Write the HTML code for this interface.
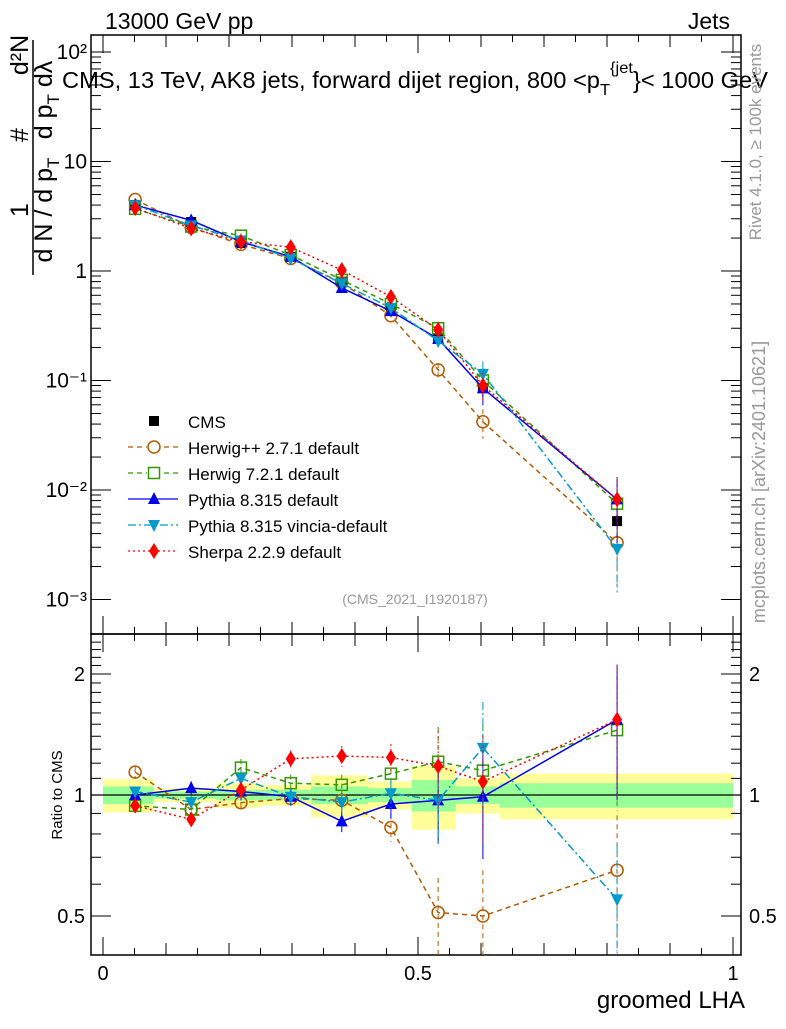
<!DOCTYPE html>
<html><head><meta charset="utf-8"><style>
body{margin:0;background:#fff;width:786px;height:1024px;overflow:hidden}
svg text{font-family:"Liberation Sans",sans-serif}
</style></head><body>
<svg id="chart" width="786" height="1024" viewBox="0 0 786 1024" xmlns="http://www.w3.org/2000/svg">
<g id="bands"></g>
<g id="axes"></g>
<g id="series"></g>
<text x="105" y="29" font-size="23">13000 GeV pp</text>
<text x="730" y="29" font-size="23" text-anchor="end">Jets</text>
<text x="62" y="88" font-size="23" textLength="706" lengthAdjust="spacingAndGlyphs">CMS, 13 TeV, AK8 jets, forward dijet region, 800 &lt;p<tspan dy="7" font-size="16">T</tspan><tspan dy="-22" font-size="16">{jet</tspan><tspan dy="15">}&lt; 1000 GeV</tspan></text>
<text x="415" y="604" font-size="14" fill="#999" text-anchor="middle">(CMS_2021_I1920187)</text>
<text x="745" y="1008" font-size="24" text-anchor="end">groomed LHA</text>
<text transform="translate(62,795) rotate(-90)" font-size="15" text-anchor="middle">Ratio to CMS</text>
<g font-size="25">
<text transform="translate(52,210) rotate(-90)" text-anchor="middle">d N / d p<tspan font-size="17" dy="7">T</tspan></text>
<text transform="translate(28,210) rotate(-90)" text-anchor="middle">1</text>
<line x1="33" y1="40" x2="33" y2="275" stroke="#000" stroke-width="1.5"/>
<text transform="translate(28,135) rotate(-90)" text-anchor="middle">#</text>
<text transform="translate(52,100) rotate(-90)" text-anchor="middle">d p<tspan font-size="17" dy="7">T</tspan><tspan dy="-7"> d</tspan>λ</text>
<text transform="translate(28,55) rotate(-90)" text-anchor="middle">d²N</text>
</g>
<text transform="translate(761,142) rotate(-90)" font-size="17" fill="#999" text-anchor="middle">Rivet 4.1.0, ≥ 100k events</text>
<text transform="translate(765,482) rotate(-90)" font-size="18" fill="#999" text-anchor="middle">mcplots.cern.ch [arXiv:2401.10621]</text>
<g id="legend"></g>
</svg>
<script>
const xCenters=[0.051,0.14,0.219,0.298,0.379,0.457,0.532,0.603,0.816];
const binEdges=[0,0.08,0.18,0.25,0.33,0.42,0.49,0.56,0.63,1.0];
const cmsVals=[4.0,2.8,1.8,1.35,0.8,0.45,0.24,0.085,0.0052];
const herwigppVals=[4.5,2.5,1.75,1.3,0.78,0.39,0.125,0.042,0.0033];
const herwig7Vals=[3.7,2.55,2.1,1.4,0.83,0.5,0.3,0.1,0.0075];
const pythiaVals=[4.0,2.9,1.85,1.35,0.7,0.43,0.24,0.085,0.0082];
const vinciaVals=[4.0,2.6,1.9,1.3,0.77,0.46,0.23,0.115,0.0029];
const sherpaVals=[3.75,2.45,1.85,1.65,1.02,0.58,0.29,0.09,0.0082];
const herwigppRatio=[1.14,0.92,0.957,0.98,0.97,0.83,0.51,0.5,0.65];
const herwig7Ratio=[0.94,0.92,1.17,1.07,1.06,1.13,1.21,1.15,1.45];
const pythiaRatio=[1.0,1.04,1.02,0.99,0.86,0.95,0.97,0.99,1.54];
const vinciaRatio=[1.02,0.96,1.1,0.99,0.96,1.01,0.97,1.31,0.55];
const sherpaRatio=[0.94,0.87,1.03,1.23,1.25,1.24,1.18,1.08,1.54];
const relErr=[0.03,0.04,0.05,0.04,0.05,0.07,0.15,0.3,0.6];
const ratioErr=[0.03,0.04,0.05,0.05,0.06,0.08,0.22,0.3,0.37];
const bandYellow=[0.095,0.04,0.07,0.06,0.12,0.08,0.18,0.1,0.13];
const bandGreen=[0.05,0.02,0.03,0.03,0.05,0.04,0.09,0.05,0.07];
const xTicks=[0,0.5,1];
const yTicks=[100,10,1,0.1,0.01,0.001];
const yTickLabels=["10²","10","1","10⁻¹","10⁻²","10⁻³"];
const rTicks=[0.5,1,2];

const NS="http://www.w3.org/2000/svg";
const L=91,R=741,T=35,D=634,B=955;
const X=v=>103+v*630;
const Y=v=>271-Math.log10(v)*109.5;
const RY=v=>795-Math.log10(v)*402;
function mk(tag,attrs,parent){const e=document.createElementNS(NS,tag);for(const k in attrs)e.setAttribute(k,attrs[k]);parent.appendChild(e);return e;}
const ax=document.getElementById('axes'),bands=document.getElementById('bands'),ser=document.getElementById('series'),leg=document.getElementById('legend');

binEdges.slice(0,-1).forEach((e0,i)=>{
 const x0=X(e0),x1=X(binEdges[i+1]);
 const y=mk('rect',{x:x0,y:RY(1+bandYellow[i]),width:x1-x0,height:RY(1-bandYellow[i])-RY(1+bandYellow[i]),fill:'#ffff99'},bands);
 
 const g=mk('rect',{x:x0,y:RY(1+bandGreen[i]),width:x1-x0,height:RY(1-bandGreen[i])-RY(1+bandGreen[i]),fill:'#99ff99'},bands);
 
});
mk('line',{x1:L,x2:R,y1:RY(1),y2:RY(1),stroke:'#000','stroke-width':1.2},bands);

mk('rect',{x:L,y:T,width:R-L,height:D-T,fill:'none',stroke:'#000','stroke-width':1.5},ax);
mk('rect',{x:L,y:D,width:R-L,height:B-D,fill:'none',stroke:'#000','stroke-width':1.5},ax);
for(let k=0;k<=20;k++){const v=k*0.05,x=X(v),len=(k%10==0)?18:(k%2==0?12:7);
 [[T,1],[D,-1],[D,1],[B,-1]].forEach(([y0,s])=>mk('line',{x1:x,x2:x,y1:y0,y2:y0+s*len,stroke:'#000'},ax));}
xTicks.forEach(v=>{const t=mk('text',{x:X(v),y:980,'font-size':20,'text-anchor':'middle'},ax);t.textContent=String(v);
 });
for(let d=-3;d<=2;d++){for(let m=1;m<10;m++){const v=m*Math.pow(10,d),y=Y(v);if(y<T||y>D)continue;const len=m==1?20:10;
 mk('line',{x1:L,x2:L+len,y1:y,y2:y,stroke:'#000'},ax);mk('line',{x1:R,x2:R-len,y1:y,y2:y,stroke:'#000'},ax);}}
yTicks.forEach((v,i)=>{const t=mk('text',{x:L-4,y:Y(v)+7,'font-size':21,'text-anchor':'end'},ax);t.textContent=yTickLabels[i];
 });
for(let k=4;k<=24;k++){const v=k/10,y=RY(v);if(y<D||y>B)continue;const len=(v==0.5||v==1||v==2)?20:10;
 mk('line',{x1:L,x2:L+len,y1:y,y2:y,stroke:'#000'},ax);mk('line',{x1:R,x2:R-len,y1:y,y2:y,stroke:'#000'},ax);}
rTicks.forEach(v=>{[[L-6,'end'],[R+8,'start']].forEach(([x,a])=>{const t=mk('text',{x:x,y:RY(v)+7,'font-size':20,'text-anchor':a},ax);t.textContent=String(v);
 });});

function marker(g,type,color,x,y){
 if(type=='sq')mk('rect',{x:x-5,y:y-5,width:10,height:10,fill:'#000'},g);
 else if(type=='circ')mk('circle',{cx:x,cy:y,r:6,fill:'none',stroke:color,'stroke-width':1.5},g);
 else if(type=='osq')mk('rect',{x:x-5.5,y:y-5.5,width:11,height:11,fill:'none',stroke:color,'stroke-width':1.5},g);
 else if(type=='up')mk('polygon',{points:`${x},${y-7} ${x-6},${y+5} ${x+6},${y+5}`,fill:color},g);
 else if(type=='down')mk('polygon',{points:`${x},${y+7} ${x-6},${y-5} ${x+6},${y-5}`,fill:color},g);
 else if(type=='dia')mk('polygon',{points:`${x},${y-8} ${x-5},${y} ${x},${y+8} ${x+5},${y}`,fill:color},g);
}
const series=[
 {name:'herwigpp',label:'Herwig++ 2.7.1 default',vals:herwigppVals,ratio:herwigppRatio,color:'#b35900',dash:'5,4',m:'circ'},
 {name:'herwig7',label:'Herwig 7.2.1 default',vals:herwig7Vals,ratio:herwig7Ratio,color:'#339900',dash:'5,4',m:'osq'},
 {name:'pythia',label:'Pythia 8.315 default',vals:pythiaVals,ratio:pythiaRatio,color:'#0000ee',dash:'',m:'up'},
 {name:'vincia',label:'Pythia 8.315 vincia-default',vals:vinciaVals,ratio:vinciaRatio,color:'#0099cc',dash:'8,3,2,3',m:'down'},
 {name:'sherpa',label:'Sherpa 2.2.9 default',vals:sherpaVals,ratio:sherpaRatio,color:'#ff0000',dash:'2,3',m:'dia'}
];
const cg=mk('g',{},ser);
xCenters.forEach((x,i)=>{const v=cmsVals[i],e=relErr[i]*0.5;mk('line',{x1:X(x),x2:X(x),y1:Y(v*(1+e)),y2:Y(Math.max(v*(1-e),1e-4)),stroke:'#000'},cg);marker(cg,'sq','#000',X(x),Y(v));});
series.forEach(s=>{
 const g=mk('g',{},ser);
 const pts=xCenters.map((x,i)=>X(x)+','+Y(s.vals[i])).join(' ');
 mk('polyline',{points:pts,fill:'none',stroke:s.color,'stroke-width':1.5,'stroke-dasharray':s.dash},g);
 const rpts=xCenters.map((x,i)=>X(x)+','+RY(s.ratio[i])).join(' ');
 mk('polyline',{points:rpts,fill:'none',stroke:s.color,'stroke-width':1.5,'stroke-dasharray':s.dash},g);
 xCenters.forEach((x,i)=>{
  const e=relErr[i],v=s.vals[i],r=s.ratio[i],re=ratioErr[i];
  mk('line',{x1:X(x),x2:X(x),y1:Y(v*(1+e)),y2:Math.min(Y(Math.max(v*(1-e),1e-6)),D),stroke:s.color,'stroke-dasharray':s.dash},g);
  mk('line',{x1:X(x),x2:X(x),y1:Math.max(RY(r*(1+re)),D),y2:Math.min(RY(Math.max(r*(1-re),0.01)),B),stroke:s.color,'stroke-dasharray':s.dash},g);
  marker(g,s.m,s.color,X(x),Y(v));marker(g,s.m,s.color,X(x),RY(r));
 });
});
const ly0=421;
let e=mk('g',{},leg);
marker(e,'sq','#000',154,ly0);let t=mk('text',{x:188,y:ly0+7,'font-size':17},e);t.textContent='CMS';
series.forEach((s,i)=>{const y=ly0+26*(i+1);
 const g=mk('g',{},leg);
 mk('line',{x1:128,x2:178,y1:y,y2:y,stroke:s.color,'stroke-width':1.3,'stroke-dasharray':s.dash},g);
 if(s.m=='circ'||s.m=='osq')mk('rect',{x:147,y:y-7,width:14,height:14,fill:'#fff'},g);
 marker(g,s.m,s.color,154,y);
 const tt=mk('text',{x:188,y:y+7,'font-size':17},g);tt.textContent=s.label;});
</script>
</body></html>
